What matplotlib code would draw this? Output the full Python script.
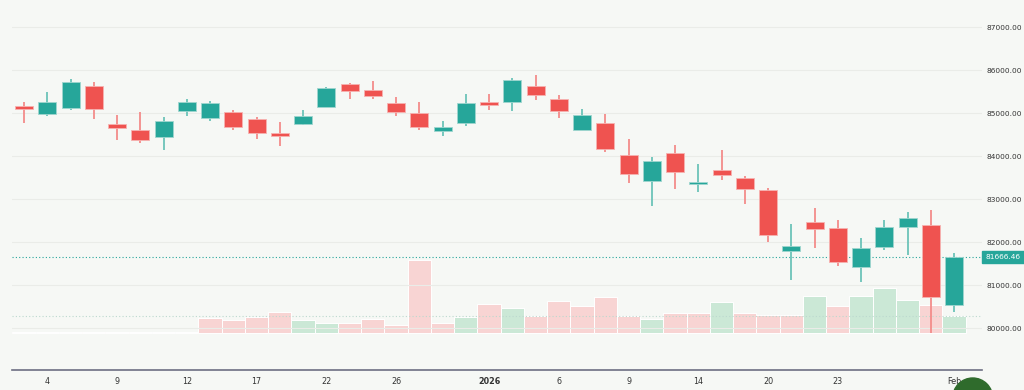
import numpy as np
import matplotlib
matplotlib.use("Agg")
import matplotlib.pyplot as plt
from matplotlib.patches import Rectangle, Circle
from matplotlib.transforms import blended_transform_factory

# OHLC (one candle per slot)
opens = [85163, 84984, 85123, 85628, 84751, 84605, 84456, 85047, 84884, 85023,
         84868, 84535, 84751, 85140, 85688, 85535, 85233, 85007, 84595, 84781,
         85256, 85256, 85642, 85333, 84612, 84775, 84037, 83433, 84084, 83363,
         83681, 83495, 83216, 81791, 82465, 82340, 81433, 81891, 82356, 82395,
         80549]
highs = [85270, 85488, 85798, 85735, 84954, 85030, 84921, 85333, 85286, 85077,
         84907, 84791, 85077, 85612, 85705, 85751, 85379, 85263, 84814, 85449,
         85456, 85821, 85891, 85419, 85093, 84984, 84402, 83977, 84263, 83821,
         84147, 83542, 83263, 82419, 82791, 82519, 82093, 82519, 82705, 82744,
         81744]
lows = [84767, 84944, 85077, 84874, 84379, 84302, 84147, 84944, 84821, 84612,
        84402, 84240, 84728, 85140, 85333, 85333, 84937, 84619, 84472, 84705,
        85084, 85054, 85302, 84884, 84612, 84107, 83386, 82851, 83247, 83177,
        83456, 82898, 82000, 81123, 81860, 81456, 81084, 81814, 81705, 79884,
        80372]
closes = [85107, 85270, 85721, 85093, 84665, 84379, 84821, 85270, 85233, 84674,
          84549, 84472, 84930, 85581, 85526, 85402, 85023, 84688, 84681, 85233,
          85186, 85767, 85433, 85060, 84960, 84177, 83581, 83884, 83628, 83395,
          83565, 83233, 82170, 81921, 82309, 81535, 81860, 82356, 82572, 80721,
          81666.46]

# volume (arbitrary units) and its colour flag (1 = up, 0 = down)
volumes = [8, 8, 8, 8, 8, 8, 8, 8, 147, 130,
           157, 207, 127, 100, 100, 137, 77, 730, 100, 157,
           287, 247, 170, 317, 267, 357, 170, 134, 197, 194,
           310, 197, 177, 177, 367, 270, 370, 450, 324, 280,
           170]
vol_up = [0, 1, 1, 0, 0, 0, 1, 1, 0, 0,
          0, 0, 1, 1, 0, 0, 0, 0, 0, 1,
          0, 1, 0, 0, 0, 0, 0, 1, 0, 0,
          1, 0, 0, 0, 1, 0, 1, 1, 1, 0,
          1]

tick_pos = [1, 4, 7, 10, 13, 16, 20, 23, 26, 29, 32, 35, 40]
tick_labels = ["4", "9", "12", "17", "22", "26", "2026", "6", "9", "14", "20", "23", "Feb"]
price_ticks = [80000, 81000, 82000, 83000, 84000, 85000, 86000, 87000]

UP = "#26a69a"
DOWN = "#ef5350"
UP_VOL = "#cbe8d6"
DOWN_VOL = "#f8d4d3"
BG = "#f6f8f5"

fig = plt.figure(figsize=(10.24, 3.9), dpi=100, facecolor=BG)
ax = fig.add_axes([12/1024, 20/390, 970/1024, 370/390])
ax.set_facecolor(BG)

# volume pane on its own scale, drawn underneath the candles
axv = ax.twinx()
axv.set_zorder(0)
ax.set_zorder(1)
ax.patch.set_visible(False)
axv.set_facecolor(BG)
x = np.arange(len(opens))
vcol = [UP_VOL if u else DOWN_VOL for u in vol_up]
axv.bar(x, volumes, width=1.0, color=vcol, edgecolor="white", linewidth=0.7)
axv.axhline(volumes[-1], color="#bcd9cf", lw=0.8, ls=(0, (1, 2)))
axv.set_ylim(-373, 3327)
axv.set_yticks([])
for s in axv.spines.values():
    s.set_visible(False)

# grid
for p in price_ticks:
    ax.axhline(p, color="#eaece8", lw=0.8, zorder=0)

o = np.array(opens); c = np.array(closes)
h = np.array(highs); l = np.array(lows)
up = c >= o
cols = np.where(up, UP, DOWN)
wick_cols = np.where(up, "#6cc3b9", "#f38c8a")
ax.vlines(x, l, h, colors=wick_cols, lw=1.3, zorder=2)
bottoms = np.minimum(o, c)
heights = np.maximum(np.abs(c - o), 25)
ax.bar(x, heights, bottom=bottoms, width=0.77, color=cols,
       edgecolor=np.where(up, "#9fd6cf", "#f6b3b1"), linewidth=0.6, zorder=3)

# last price line + label
last = closes[-1]
ax.axhline(last, color=UP, lw=0.8, ls=(0, (1, 2)), zorder=1)
tr = blended_transform_factory(ax.transAxes, ax.transData)
ax.add_patch(Rectangle((1.0, last - 140), 0.06, 280, transform=tr,
                       color=UP, clip_on=False, zorder=5))
ax.text(1.0 + 4/970, last, f"{last:.2f}", transform=tr, color="white",
        fontsize=5.3, va="center", ha="left", zorder=6, clip_on=False)

ax.set_xlim(-0.52, 41.2)
ax.set_ylim(79030, 87635)
ax.yaxis.tick_right()
ax.set_yticks(price_ticks)
ax.set_yticklabels([f"{p:.2f}" for p in price_ticks])
ax.tick_params(axis="y", length=0, pad=2.9, labelsize=5.3, labelcolor="#333333")
ax.set_xticks(tick_pos)
ax.set_xticklabels(tick_labels)
ax.tick_params(axis="x", length=0, pad=5, labelsize=5.8, labelcolor="#333333")
for lab in ax.get_xticklabels():
    if lab.get_text() == "2026":
        lab.set_fontweight("bold")
for side in ["top", "left", "right"]:
    ax.spines[side].set_visible(False)
ax.spines["bottom"].set_color("#6d6f82")
ax.spines["bottom"].set_linewidth(1.2)

# floating round button peeking in at the bottom right
fig.add_artist(Circle((9.727, -0.08), 0.2, transform=fig.dpi_scale_trans,
                      color="#2f6b2c", zorder=10))

fig.savefig("out.png", dpi=100, facecolor=BG)
